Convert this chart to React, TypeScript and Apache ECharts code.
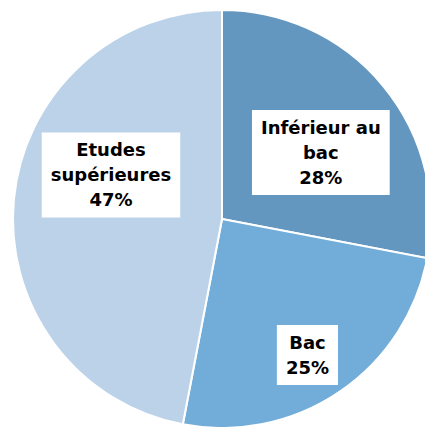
import React, { useEffect, useRef } from "react";
import * as echarts from "echarts";

const categories = ["Inférieur au\nbac", "Bac", "Etudes\nsupérieures"];
const values = [28, 25, 47];
const colors = ["#6497C0", "#72ADD9", "#BBD2E9"];
const labelOffsets = [
  [16, 2],
  [25, 47],
  [-4, -34],
];

export default function App() {
  const ref = useRef<HTMLDivElement>(null);
  useEffect(() => {
    document.body.style.margin = "0";
    const chart = echarts.init(ref.current!, null, { renderer: "svg" });
    chart.setOption({
      animation: false,
      backgroundColor: "#ffffff",
      series: [
        {
          type: "pie",
          center: [222, 219],
          radius: 209,
          startAngle: 90,
          clockwise: true,
          data: categories.map((name, i) => ({
            name,
            value: values[i],
            itemStyle: { color: colors[i] },
          })),
          itemStyle: { borderColor: "#ffffff", borderWidth: 2 },
          label: {
            show: true,
            position: "inside",
            formatter: (p: any) => `${p.name}\n${Math.round(p.percent)}%`,
            color: "#000000",
            fontFamily: "DejaVu Sans",
            fontWeight: "bold",
            fontSize: 18,
            lineHeight: 25,
            align: "center",
            backgroundColor: "#ffffff",
            padding: [5, 9, 5, 9],
          },
          labelLine: { show: false },
          emphasis: { disabled: true },
          labelLayout: (params: any) => {
            const o = labelOffsets[params.dataIndex];
            return { dx: o[0], dy: o[1] };
          },
        },
      ],
    });
    return () => chart.dispose();
  }, []);
  return <div ref={ref} style={{ width: 425, height: 427 }} />;
}
